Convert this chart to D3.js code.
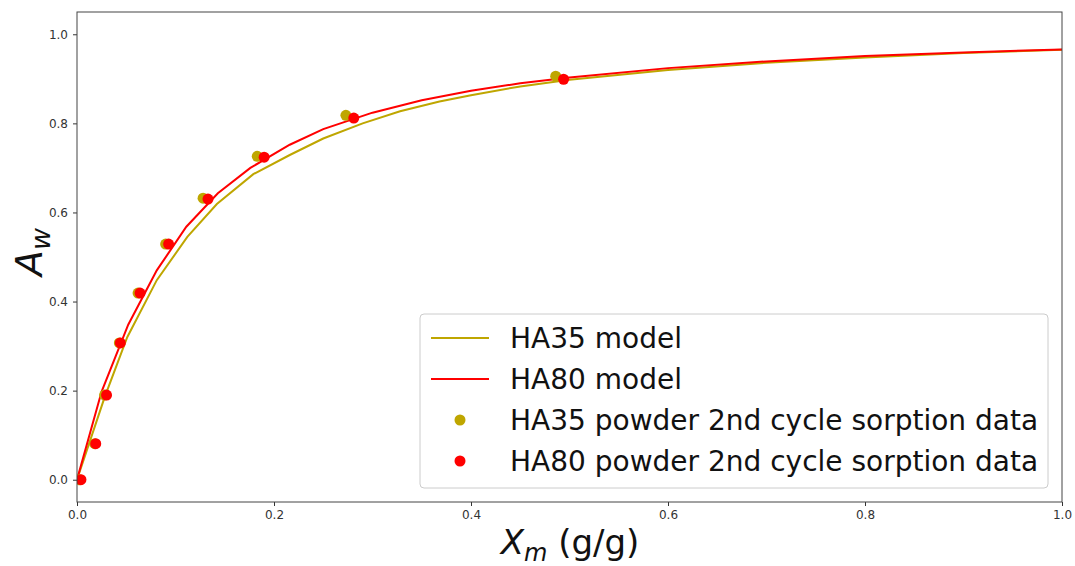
<!DOCTYPE html>
<html>
<head>
<meta charset="utf-8">
<script src="https://cdn.jsdelivr.net/npm/d3@7"></script>
<style>
  body { margin: 0; background: #fff; }
  svg { font-family: "DejaVu Sans", sans-serif; }
</style>
</head>
<body>
<div id="chart"></div>
<script>
// model curves (Xm, Aw)
const ha35ModelX = [0, 0.028, 0.051, 0.081, 0.112, 0.142, 0.179, 0.216, 0.25, 0.29, 0.328, 0.368, 0.40, 0.45, 0.50, 0.60, 0.70, 0.80, 0.90, 1.0];
const ha35ModelY = [0, 0.185, 0.32, 0.448, 0.545, 0.619, 0.686, 0.729, 0.766, 0.800, 0.827, 0.849, 0.863, 0.883, 0.898, 0.920, 0.936, 0.948, 0.958, 0.965];
const ha80ModelX = [0, 0.025, 0.052, 0.081, 0.111, 0.143, 0.176, 0.216, 0.25, 0.30, 0.35, 0.40, 0.45, 0.50, 0.60, 0.70, 0.80, 0.90, 1.0];
const ha80ModelY = [0, 0.198, 0.348, 0.47, 0.568, 0.643, 0.70, 0.752, 0.787, 0.824, 0.852, 0.873, 0.890, 0.903, 0.924, 0.939, 0.951, 0.959, 0.966];

// sorption data
const ha35DataX = [0.003, 0.018, 0.028, 0.043, 0.062, 0.090, 0.128, 0.183, 0.273, 0.486];
const ha35DataY = [0.0, 0.081, 0.19, 0.307, 0.419, 0.529, 0.632, 0.726, 0.818, 0.906];
const ha80DataX = [0.004, 0.019, 0.030, 0.044, 0.064, 0.093, 0.133, 0.190, 0.281, 0.494];
const ha80DataY = [0.0, 0.081, 0.19, 0.307, 0.419, 0.529, 0.630, 0.724, 0.812, 0.899];

const xTicks = [0.0, 0.2, 0.4, 0.6, 0.8, 1.0];
const yTicks = [0.0, 0.2, 0.4, 0.6, 0.8, 1.0];

const olive = "#bfa600", red = "#ff0000";

const W = 1075, H = 566;
const margin = {top: 12, right: 13, bottom: 64, left: 77};
const width = W - margin.left - margin.right,
      height = H - margin.top - margin.bottom;

const svg = d3.select("#chart").append("svg")
    .attr("width", W).attr("height", H);
const g = svg.append("g")
    .attr("transform", "translate(" + margin.left + "," + margin.top + ")");

const x = d3.scaleLinear().domain([0, 1]).range([0, width]);
const y = d3.scaleLinear().domain([-0.05, 1.05]).range([height, 0]);

// axes
const xAxis = g.append("g")
    .attr("transform", "translate(0," + height + ")")
    .call(d3.axisBottom(x).tickValues(xTicks).tickFormat(d3.format(".1f")).tickSize(4).tickPadding(4));
const yAxis = g.append("g")
    .call(d3.axisLeft(y).tickValues(yTicks).tickFormat(d3.format(".1f")).tickSize(4).tickPadding(5));
[xAxis, yAxis].forEach(a => {
  a.select(".domain").remove();
  a.selectAll("text").attr("font-size", 12).attr("fill", "#333").attr("font-family", "DejaVu Sans");
  a.selectAll("line").attr("stroke", "#333");
});

// curves
const line = d3.line().x(d => x(d[0])).y(d => y(d[1]));
const ha35Model = ha35ModelX.map((v, i) => [v, ha35ModelY[i]]);
const ha80Model = ha80ModelX.map((v, i) => [v, ha80ModelY[i]]);

g.append("clipPath").attr("id", "clip")
  .append("rect").attr("width", width).attr("height", height);
const plot = g.append("g").attr("clip-path", "url(#clip)");

plot.append("path").datum(ha35Model)
    .attr("d", line).attr("fill", "none").attr("stroke", olive).attr("stroke-width", 2);
plot.append("path").datum(ha80Model)
    .attr("d", line).attr("fill", "none").attr("stroke", red).attr("stroke-width", 2);

plot.append("g").selectAll("circle")
  .data(ha35DataX.map((v, i) => [v, ha35DataY[i]]))
  .enter().append("circle")
    .attr("cx", d => x(d[0])).attr("cy", d => y(d[1]))
    .attr("r", 5.5).attr("fill", olive);
plot.append("g").selectAll("circle")
  .data(ha80DataX.map((v, i) => [v, ha80DataY[i]]))
  .enter().append("circle")
    .attr("cx", d => x(d[0])).attr("cy", d => y(d[1]))
    .attr("r", 5.5).attr("fill", red);

// frame
g.append("rect").attr("width", width).attr("height", height)
    .attr("fill", "none").attr("stroke", "#444").attr("stroke-width", 1);

// axis labels
svg.append("text")
    .attr("x", 570).attr("y", 554)
    .attr("text-anchor", "middle")
    .attr("font-size", 34).attr("fill", "#111")
    .html('<tspan font-style="italic">X</tspan><tspan font-style="italic" font-size="24" dy="7">m</tspan><tspan dy="-7"> (g/g)</tspan>');

svg.append("text")
    .attr("transform", "translate(42,252) rotate(-90)")
    .attr("text-anchor", "middle")
    .attr("font-size", 38).attr("fill", "#111")
    .html('<tspan font-style="italic">A</tspan><tspan font-style="italic" font-size="27" dy="8">w</tspan>');

// legend
const legend = svg.append("g").attr("transform", "translate(420,314)");
legend.append("rect")
    .attr("width", 628).attr("height", 174).attr("rx", 4)
    .attr("fill", "#fff").attr("fill-opacity", 0.8)
    .attr("stroke", "#ccc").attr("stroke-width", 1);
const entries = [
  {label: "HA35 model", color: olive, type: "line"},
  {label: "HA80 model", color: red, type: "line"},
  {label: "HA35 powder 2nd cycle sorption data", color: olive, type: "dot"},
  {label: "HA80 powder 2nd cycle sorption data", color: red, type: "dot"}
];
const le = legend.selectAll("g.entry").data(entries).enter().append("g")
    .attr("transform", (d, i) => "translate(0," + (24 + i * 41) + ")");
le.filter(d => d.type === "line").append("line")
    .attr("x1", 11).attr("x2", 69).attr("y1", 0).attr("y2", 0)
    .attr("stroke", d => d.color).attr("stroke-width", 2);
le.filter(d => d.type === "dot").append("circle")
    .attr("cx", 40).attr("cy", 0).attr("r", 5.5).attr("fill", d => d.color);
le.append("text")
    .attr("x", 90).attr("y", 0).attr("dy", "0.36em")
    .attr("font-size", 28).attr("fill", "#111")
    .text(d => d.label);
</script>
</body>
</html>
